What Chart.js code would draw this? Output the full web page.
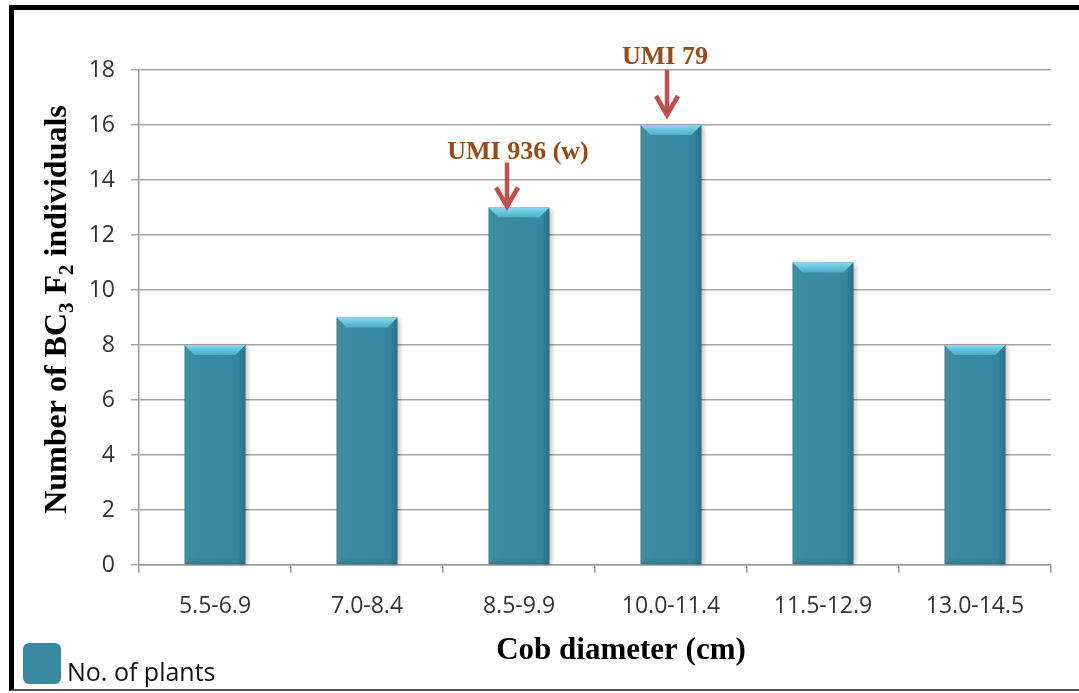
<!DOCTYPE html>
<html>
<head>
<meta charset="utf-8">
<script src="https://cdn.jsdelivr.net/npm/chart.js@4.4.1/dist/chart.umd.min.js"></script>
<style>
  html, body { margin: 0; padding: 0; background: #fff; overflow: hidden; }
  #wrap { position: relative; width: 1079px; height: 693px; }
  #frame {
    position: absolute; left: 9px; top: 5px; width: 1100px; height: 679px;
    border-left: 5px solid #000; border-top: 5px solid #000; border-bottom: 2px solid #555;
    pointer-events: none;
  }
  canvas { position: absolute; left: 0; top: 0; }
</style>
</head>
<body>
<div id="wrap">
  <canvas id="chart" width="1079" height="693"></canvas>
  <div id="frame"></div>
</div>
<script>
// Cob diameter classes and number of BC3F2 plants in each class
const categories = ['5.5-6.9', '7.0-8.4', '8.5-9.9', '10.0-11.4', '11.5-12.9', '13.0-14.5'];
const plantCounts = [8, 9, 13, 16, 11, 8];
const seriesName = 'No. of plants';
const yTicks = [0, 2, 4, 6, 8, 10, 12, 14, 16, 18];

// Parent lines marked above their cob-diameter class
const markedClasses = ['8.5-9.9', '10.0-11.4'];
const markedLabels = ['UMI 936 (w)', 'UMI 79'];

const BAR = '#3689a1';
const SERIF = '"Liberation Serif", "Times New Roman", serif';
const SANS = '"Open Sans", "Noto Sans", sans-serif';

// arrow / label placement relative to each marked bar
const markStyle = [
  { arrowDx: -12, tipGap: -1, len: 46, textDx: -1, textGap: 49 },
  { arrowDx: -4,  tipGap: 8,  len: 47, textDx: -6, textGap: 61 }
];

const barShading = {
  id: 'barShading',
  beforeDatasetsDraw(chart) {
    const c = chart.ctx;
    c.save();
    c.shadowColor = 'rgba(0,0,0,0.28)';
    c.shadowBlur = 5;
    c.shadowOffsetX = 3;
    c.shadowOffsetY = 1;
  },
  afterDatasetsDraw(chart) {
    chart.ctx.restore();
    const c = chart.ctx;
    const meta = chart.getDatasetMeta(0);
    meta.data.forEach(bar => {
      const l = bar.x - bar.width / 2, r = bar.x + bar.width / 2;
      const t = bar.y, b = bar.base, e = 10;
      c.save();
      // side shading across the face
      const hg = c.createLinearGradient(l, 0, r, 0);
      hg.addColorStop(0, 'rgba(20,70,85,0.3)');
      hg.addColorStop(0.06, 'rgba(255,255,255,0.03)');
      hg.addColorStop(0.88, 'rgba(20,70,85,0.02)');
      hg.addColorStop(1, 'rgba(20,70,85,0.4)');
      c.fillStyle = hg;
      c.fillRect(l, t, r - l, b - t);
      // top bevel
      const g = c.createLinearGradient(0, t, 0, t + e);
      g.addColorStop(0, '#86daef');
      g.addColorStop(1, '#4aaec8');
      c.fillStyle = g;
      c.beginPath();
      c.moveTo(l, t); c.lineTo(r, t); c.lineTo(r - e, t + e); c.lineTo(l + e, t + e); c.closePath();
      c.fill();
      // bottom bevel
      const bg = c.createLinearGradient(0, b - 7, 0, b);
      bg.addColorStop(0, 'rgba(20,70,85,0)');
      bg.addColorStop(1, 'rgba(20,70,85,0.22)');
      c.fillStyle = bg;
      c.beginPath();
      c.moveTo(l, b); c.lineTo(r, b); c.lineTo(r - 7, b - 7); c.lineTo(l + 7, b - 7); c.closePath();
      c.fill();
      c.restore();
    });
  }
};

const decorations = {
  id: 'decorations',
  afterDraw(chart) {
    const c = chart.ctx;
    const area = chart.chartArea;
    const meta = chart.getDatasetMeta(0);

    // marked parents: arrow pointing down to the bar, label above
    markedClasses.forEach((cls, i) => {
      const bar = meta.data[categories.indexOf(cls)];
      const s = markStyle[i];
      const ax = bar.x + s.arrowDx;
      const tip = bar.y - s.tipGap;
      const top = tip - s.len;
      c.save();
      c.strokeStyle = '#c0504d';
      c.lineWidth = 4.5;
      c.lineCap = 'butt';
      c.beginPath();
      c.moveTo(ax, top); c.lineTo(ax, tip - 3);
      c.stroke();
      c.lineJoin = 'miter';
      c.beginPath();
      c.moveTo(ax - 11, tip - 21); c.lineTo(ax, tip - 2); c.lineTo(ax + 11, tip - 21);
      c.stroke();
      c.fillStyle = '#9a4a17';
      c.font = 'bold 26px ' + SERIF;
      c.textAlign = 'center';
      c.textBaseline = 'alphabetic';
      c.fillText(markedLabels[i], bar.x + s.textDx, bar.y - s.textGap);
      c.restore();
    });

    // x-axis title
    c.save();
    c.fillStyle = '#000';
    c.font = 'bold 31px ' + SERIF;
    c.textAlign = 'center';
    c.textBaseline = 'alphabetic';
    c.fillText('Cob diameter (cm)', 621, 659);
    c.restore();

    // y-axis title with subscripts: Number of BC3 F2 individuals
    c.save();
    c.translate(66, (area.top + area.bottom) / 2 - 8);
    c.rotate(-Math.PI / 2);
    c.fillStyle = '#000';
    const big = 'bold 32px ' + SERIF, small = 'bold 21px ' + SERIF;
    const parts = [
      ['Number of BC', big, 0], ['3', small, 7], [' F', big, 0], ['2', small, 7], [' individuals', big, 0]
    ];
    let total = 0;
    parts.forEach(p => { c.font = p[1]; total += c.measureText(p[0]).width; });
    let x = -total / 2;
    c.textBaseline = 'alphabetic';
    c.textAlign = 'left';
    parts.forEach(p => {
      c.font = p[1];
      c.fillText(p[0], x, p[2]);
      x += c.measureText(p[0]).width;
    });
    c.restore();

    // legend
    c.save();
    c.fillStyle = BAR;
    c.beginPath();
    c.roundRect(23, 643, 38, 41, 6);
    c.fill();
    c.fillStyle = '#111';
    c.font = '25px ' + SANS;
    c.textAlign = 'left';
    c.textBaseline = 'alphabetic';
    c.fillText(seriesName, 67, 681);
    c.restore();
  }
};

new Chart(document.getElementById('chart'), {
  type: 'bar',
  data: {
    labels: categories,
    datasets: [{
      label: seriesName,
      data: plantCounts,
      backgroundColor: BAR,
      borderWidth: 0,
      barPercentage: 0.4,
      categoryPercentage: 1.0
    }]
  },
  plugins: [barShading, decorations],
  options: {
    responsive: false,
    animation: false,
    devicePixelRatio: 1,
    layout: { padding: { left: 0, top: 70, right: 28, bottom: 0 } },
    plugins: { legend: { display: false }, tooltip: { enabled: false } },
    scales: {
      x: {
        offset: true,
        afterFit: s => { s.height = 128; },
        grid: {
          display: true, drawOnChartArea: false, drawTicks: true,
          tickLength: 8, offset: true, color: '#9a9a9a', lineWidth: 1.5
        },
        border: { display: true, color: '#9a9a9a', width: 1.5 },
        ticks: { color: '#333', font: { family: SANS, size: 23 }, padding: 20, maxRotation: 0 }
      },
      y: {
        min: 0, max: 18,
        afterFit: s => { s.width = 139; },
        afterBuildTicks: s => { s.ticks = yTicks.map(v => ({ value: v })); },
        grid: { color: '#a6a6a6', lineWidth: 1.5, tickLength: 8, drawTicks: true },
        border: { display: true, color: '#9a9a9a', width: 1.5 },
        ticks: { color: '#333', font: { family: SANS, size: 23 }, padding: 16 }
      }
    }
  }
});
</script>
</body>
</html>
